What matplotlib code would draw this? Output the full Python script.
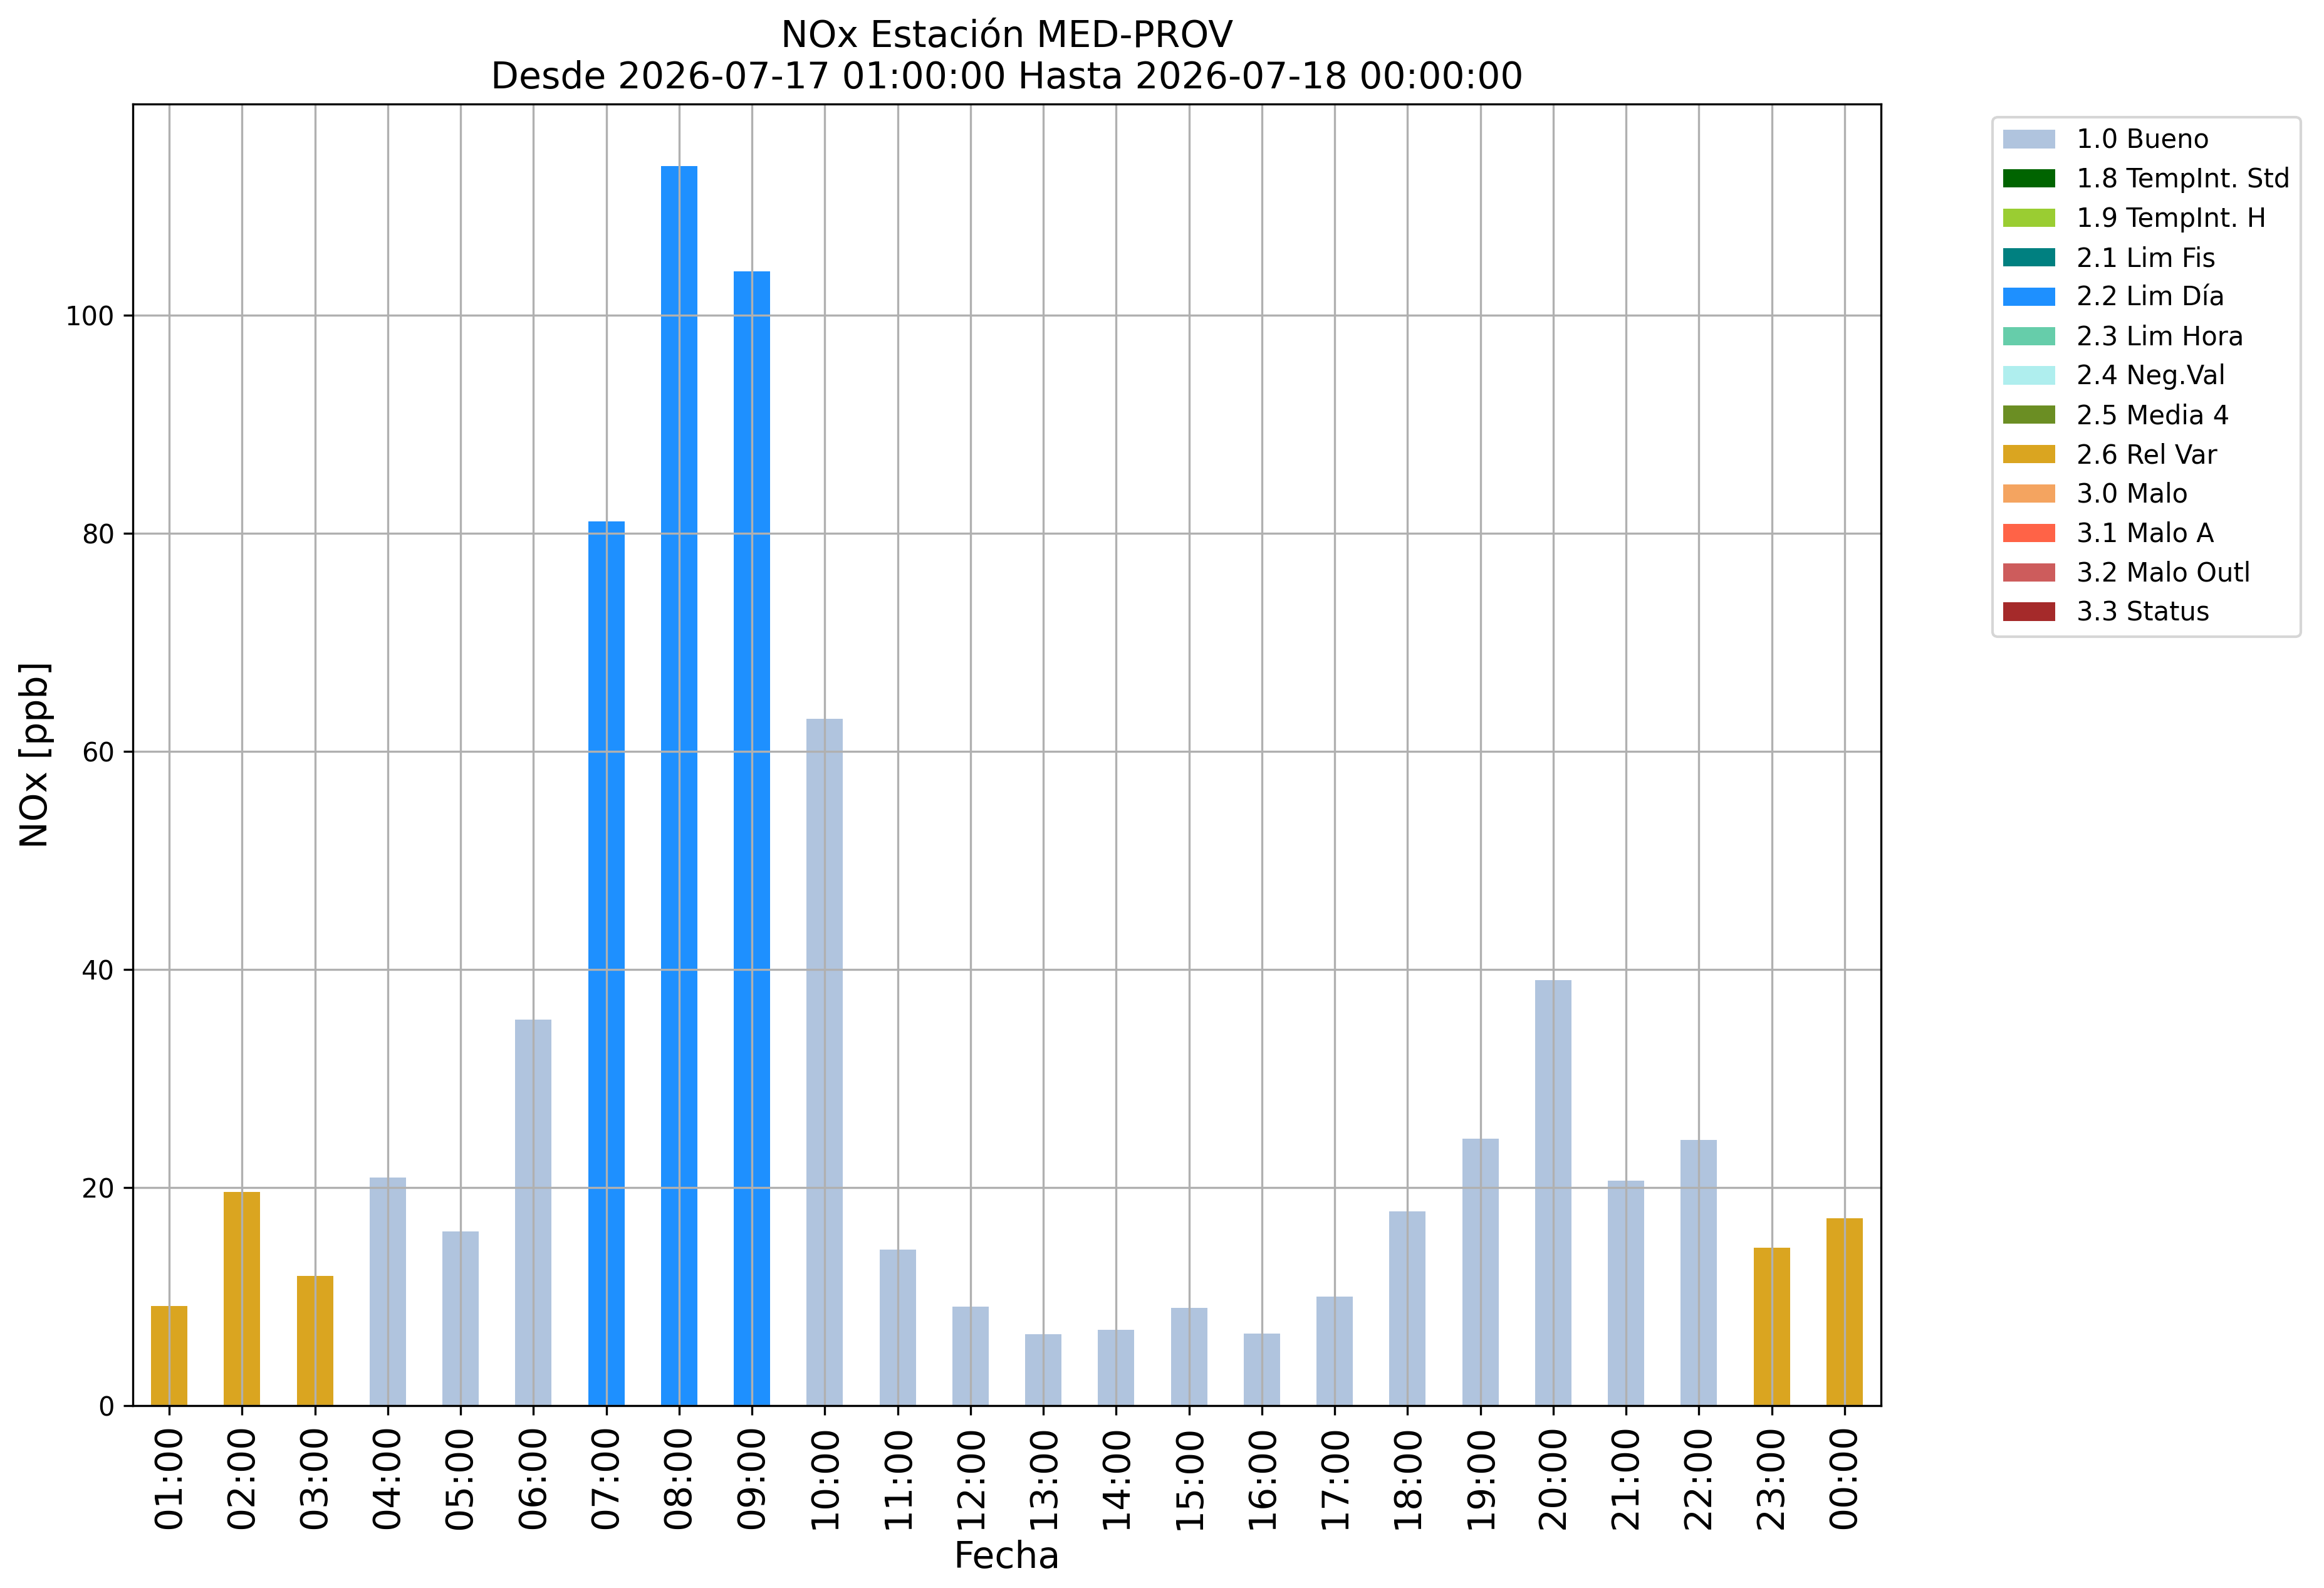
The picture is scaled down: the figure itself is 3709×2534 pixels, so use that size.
import matplotlib
matplotlib.use("Agg")
import matplotlib.pyplot as plt
from matplotlib.patches import Patch

hours = ["01:00", "02:00", "03:00", "04:00", "05:00", "06:00", "07:00", "08:00",
         "09:00", "10:00", "11:00", "12:00", "13:00", "14:00", "15:00", "16:00",
         "17:00", "18:00", "19:00", "20:00", "21:00", "22:00", "23:00", "00:00"]
nox = [9.15, 19.6, 11.9, 20.9, 16.0, 35.4, 81.05, 113.66,
       104.03, 63.0, 14.3, 9.1, 6.55, 6.95, 8.97, 6.6,
       10.0, 17.8, 24.45, 39.0, 20.6, 24.37, 14.48, 17.18]
flags = ["2.6", "2.6", "2.6", "1.0", "1.0", "1.0", "2.2", "2.2",
         "2.2", "1.0", "1.0", "1.0", "1.0", "1.0", "1.0", "1.0",
         "1.0", "1.0", "1.0", "1.0", "1.0", "1.0", "2.6", "2.6"]

legend_codes = ["1.0", "1.8", "1.9", "2.1", "2.2", "2.3", "2.4", "2.5",
                "2.6", "3.0", "3.1", "3.2", "3.3"]
legend_labels = ["1.0 Bueno", "1.8 TempInt. Std", "1.9 TempInt. H", "2.1 Lim Fis",
                 "2.2 Lim Día", "2.3 Lim Hora", "2.4 Neg.Val", "2.5 Media 4",
                 "2.6 Rel Var", "3.0 Malo", "3.1 Malo A", "3.2 Malo Outl", "3.3 Status"]
legend_colors = ["lightsteelblue", "darkgreen", "yellowgreen", "teal",
                 "dodgerblue", "mediumaquamarine", "paleturquoise", "olivedrab",
                 "goldenrod", "sandybrown", "tomato", "indianred", "brown"]

color_map = dict(zip(legend_codes, legend_colors))
bar_colors = [color_map[f] for f in flags]

W, H, DPI = 3709, 2534, 300
fig = plt.figure(figsize=(W / DPI, H / DPI), dpi=DPI)
left, right, top, bottom = 212, 3002, 166, 2243
ax = fig.add_axes([left / W, 1 - bottom / H, (right - left) / W, (bottom - top) / H])

x = list(range(len(hours)))
ax.bar(x, nox, width=0.5, color=bar_colors)
ax.set_xlim(-0.5, len(hours) - 0.5)
ax.set_ylim(0, max(nox) * 1.05)
ax.set_xticks(x)
ax.set_xticklabels(hours, rotation=90, fontsize=14)
ax.tick_params(axis="y", labelsize=10)
ax.grid(True)
ax.set_xlabel("Fecha", fontsize=14)
ax.set_ylabel("NOx [ppb]", fontsize=14)
ax.set_title("NOx Estación MED-PROV\nDesde 2026-07-17 01:00:00 Hasta 2026-07-18 00:00:00",
             fontsize=14)

handles = [Patch(facecolor=c, label=l) for c, l in zip(legend_colors, legend_labels)]
ax.legend(handles=handles, loc="upper left", bbox_to_anchor=(1.0565, 1), fontsize=10)

fig.savefig("out.png", dpi=DPI)
